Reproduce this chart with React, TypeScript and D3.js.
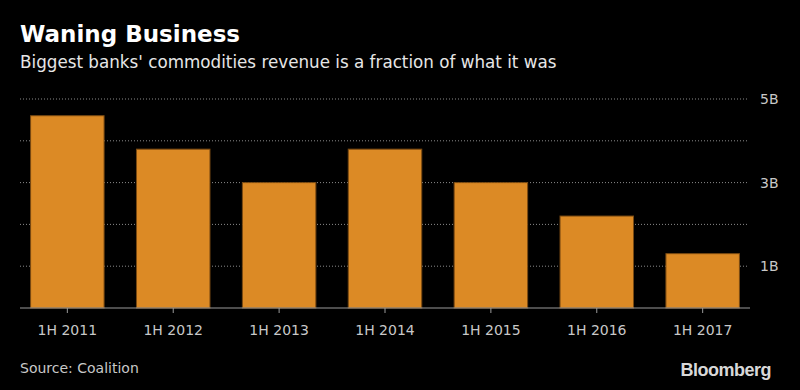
import React from "react";
import * as d3 from "d3";

const categories = ["1H 2011", "1H 2012", "1H 2013", "1H 2014", "1H 2015", "1H 2016", "1H 2017"];
const revenue = [4.6, 3.8, 3.0, 3.8, 3.0, 2.2, 1.3];
const gridValues = [1, 2, 3, 4, 5];
const tickLabels = [
  { v: 5, label: "5B" },
  { v: 3, label: "3B" },
  { v: 1, label: "1B" },
];

const W = 800;
const H = 390;
const FONT = "'DejaVu Sans', Verdana, sans-serif";

export default function App() {
  const x = d3.scaleBand<string>().domain(categories).range([20, 750]).paddingInner(0.306).paddingOuter(0.1);
  const y = d3.scaleLinear().domain([0, 5]).range([308, 99]);

  return (
    <svg
      width={W}
      height={H}
      style={{ position: "absolute", left: 0, top: 0, background: "#000" }}
    >
      <rect x={0} y={0} width={W} height={H} fill="#000" />
      <text x={20} y={42} fill="#fff" fontFamily={FONT} fontWeight="bold" fontSize={23}>
        Waning Business
      </text>
      <text x={20} y={68} fill="#e6e6e6" fontFamily={FONT} fontSize={16.75}>
        Biggest banks' commodities revenue is a fraction of what it was
      </text>

      {gridValues.map((v) => (
        <line
          key={v}
          x1={20}
          x2={748}
          y1={y(v)}
          y2={y(v)}
          stroke="#8a8a8a"
          strokeWidth={1}
          strokeDasharray="1 2"
        />
      ))}

      {categories.map((c, i) => (
        <rect
          key={c}
          x={x(c)}
          y={y(revenue[i])}
          width={x.bandwidth()}
          height={y(0) - y(revenue[i])}
          fill="#DC8A25"
          stroke="#7a4a12"
          strokeWidth={1}
        />
      ))}

      <line x1={20} x2={750} y1={y(0)} y2={y(0)} stroke="#9a9a9a" strokeWidth={1} />
      {categories.map((c) => {
        const cx = (x(c) as number) + x.bandwidth() / 2;
        return (
          <g key={c}>
            <line x1={cx} x2={cx} y1={y(0)} y2={y(0) + 5} stroke="#9a9a9a" />
            <text
              x={cx}
              y={335}
              textAnchor="middle"
              fill="#c8c8c8"
              fontFamily={FONT}
              fontSize={14}
            >
              {c}
            </text>
          </g>
        );
      })}

      {tickLabels.map((t) => (
        <text
          key={t.label}
          x={760}
          y={y(t.v) + 5}
          fill="#c8c8c8"
          fontFamily={FONT}
          fontSize={14}
        >
          {t.label}
        </text>
      ))}

      <text x={20} y={373} fill="#c8c8c8" fontFamily={FONT} fontSize={14}>
        Source: Coalition
      </text>
      <text
        x={771}
        y={376}
        textAnchor="end"
        fill="#d8d8d8"
        fontFamily="'Liberation Sans', Arial, sans-serif"
        fontWeight="bold"
        fontSize={18}
        letterSpacing={-0.5}
      >
        Bloomberg
      </text>
    </svg>
  );
}
